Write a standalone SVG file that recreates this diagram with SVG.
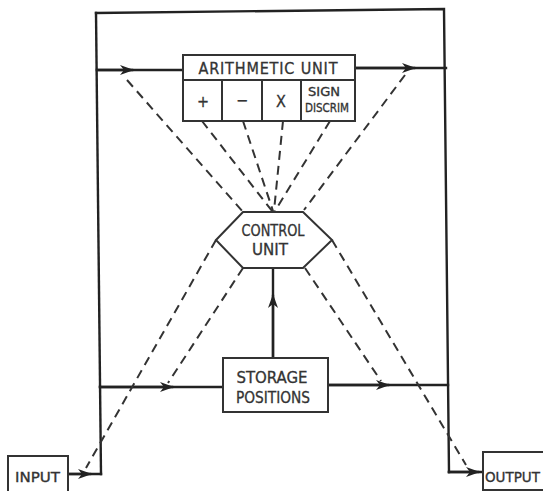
<svg xmlns="http://www.w3.org/2000/svg" width="543" height="491" viewBox="0 0 543 491">
<style>
.ln{fill:none;stroke:#222;stroke-width:2.4;stroke-linecap:square}
.bx{fill:#fff;stroke:#333;stroke-width:2}
.ds{fill:none;stroke:#333;stroke-width:2;stroke-dasharray:9,6}
text{font-family:"DejaVu Sans Condensed","Liberation Sans",sans-serif;fill:#333;text-anchor:middle;stroke:#333;stroke-width:0.3}
.t{font-size:16px}
.s{font-size:12px}
</style>
<defs>
<marker id="ah" viewBox="0 0 14 10" refX="12" refY="5" markerWidth="14" markerHeight="10" markerUnits="userSpaceOnUse" orient="auto">
<path d="M0,0 L14,5 L0,10 L4,5 Z" fill="#222"/>
</marker>
</defs>
<rect width="543" height="491" fill="#fff"/>
<g id="connectors">
<path class="ln" d="M96,13 L444,9 L449,472"/>
<path class="ln" d="M96,13 L101,474"/>
<path class="ln" d="M68,474 L101,474"/>
<path class="ln" d="M68,474 L90,474" marker-end="url(#ah)"/>
<path class="ln" d="M449,472 L483,472"/>
<path class="ln" d="M449,472 L478,472" marker-end="url(#ah)"/>
<path class="ln" d="M97,70 L183,70"/>
<path class="ln" d="M97,70 L132,70" marker-end="url(#ah)"/>
<path class="ln" d="M355,68 L446,68"/>
<path class="ln" d="M355,68 L414,68" marker-end="url(#ah)"/>
<path class="ln" d="M100,387 L223,387"/>
<path class="ln" d="M100,387 L172,387" marker-end="url(#ah)"/>
<path class="ln" d="M328,385 L448,385"/>
<path class="ln" d="M328,385 L388,385" marker-end="url(#ah)"/>
<path class="ln" d="M273,358 L273,268"/>
<path class="ln" d="M273,358 L273,296" marker-end="url(#ah)"/>
<path class="ds" d="M127,80 L243,212"/>
<path class="ds" d="M202,121 L272,211"/>
<path class="ds" d="M243,121 L273,211"/>
<path class="ds" d="M283,121 L274,211"/>
<path class="ds" d="M330,121 L275,211"/>
<path class="ds" d="M405,75 L304,210"/>
<path class="ds" d="M216,240 L86,468"/>
<path class="ds" d="M243,268 L168,383"/>
<path class="ds" d="M305,268 L381,381"/>
<path class="ds" d="M332,240 L466,465"/>
</g>
<g id="arithmetic">
<rect class="bx" x="183" y="55" width="172" height="66"/>
<line class="bx" x1="183" y1="80" x2="355" y2="80"/>
<line class="bx" x1="222" y1="80" x2="222" y2="121"/>
<line class="bx" x1="262" y1="80" x2="262" y2="121"/>
<line class="bx" x1="301" y1="80" x2="301" y2="121"/>
<text class="t" x="268" y="74" textLength="139" lengthAdjust="spacing">ARITHMETIC UNIT</text>
<text class="t" x="203" y="107">+</text>
<text class="t" x="242" y="106">−</text>
<text class="t" x="281" y="107">X</text>
<text class="s" x="324" y="96" textLength="32" lengthAdjust="spacingAndGlyphs">SIGN</text>
<text class="s" x="327" y="112" textLength="44" lengthAdjust="spacingAndGlyphs">DISCRIM</text>
</g>
<g id="control">
<polygon class="bx" points="216,240 243,212 303,212 332,240 303,268 243,268"/>
<text class="t" x="273" y="236" textLength="63" lengthAdjust="spacingAndGlyphs">CONTROL</text>
<text class="t" x="270" y="255" textLength="36" lengthAdjust="spacingAndGlyphs">UNIT</text>
</g>
<g id="storage">
<rect class="bx" x="223" y="358" width="105" height="54"/>
<text class="t" x="272" y="383" textLength="71" lengthAdjust="spacingAndGlyphs">STORAGE</text>
<text class="t" x="273" y="403" textLength="74" lengthAdjust="spacingAndGlyphs">POSITIONS</text>
</g>
<g id="input">
<rect class="bx" x="8" y="456" width="60" height="40"/>
<text class="t" x="37.5" y="482" style="font-size:14px" textLength="45" lengthAdjust="spacingAndGlyphs">INPUT</text>
</g>
<g id="output">
<rect class="bx" x="483" y="452" width="64" height="38"/>
<text class="t" x="512.5" y="482" style="font-size:14px" textLength="55" lengthAdjust="spacingAndGlyphs">OUTPUT</text>
</g>
</svg>
